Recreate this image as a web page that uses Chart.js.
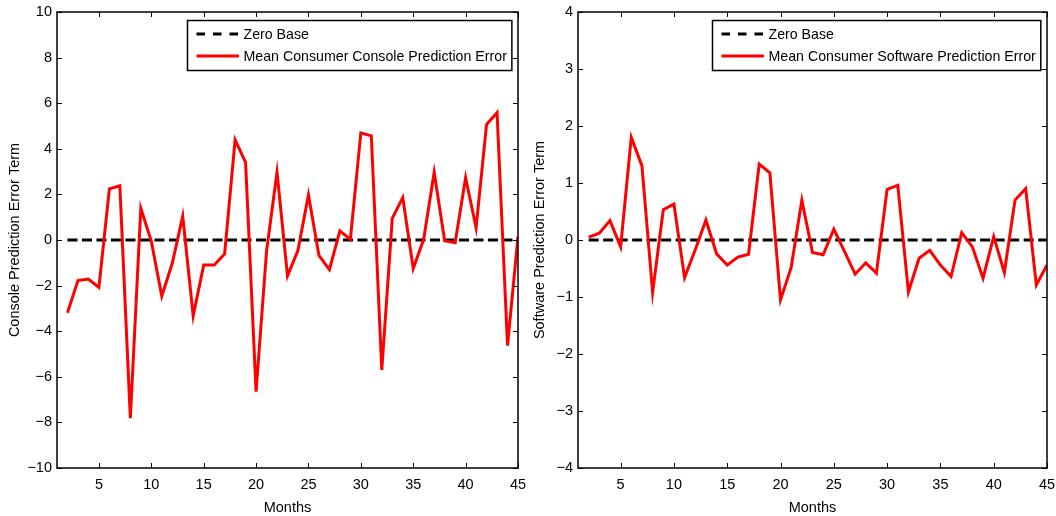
<!DOCTYPE html>
<html><head><meta charset="utf-8">
<script src="https://cdn.jsdelivr.net/npm/chart.js@4.4.1/dist/chart.umd.min.js"></script>
<style>
html,body{margin:0;padding:0;background:#fff;}
body{width:1056px;height:516px;position:relative;overflow:hidden;}
canvas{position:absolute;top:0;}
#c1{left:0;} #c2{left:528px;}
</style></head><body>
<canvas id="c1" width="528" height="516"></canvas>
<canvas id="c2" width="528" height="516"></canvas>
<script>
// ---- data ----
const months = [2,3,4,5,6,7,8,9,10,11,12,13,14,15,16,17,18,19,20,21,22,23,24,25,26,27,28,29,30,31,32,33,34,35,36,37,38,39,40,41,42,43,44,45];
const consoleErrors = [-3.19,-1.78,-1.71,-2.08,2.24,2.38,-7.82,1.39,-0.05,-2.46,-1.02,1.05,-3.33,-1.1,-1.1,-0.61,4.39,3.4,-6.65,-0.5,2.97,-1.57,-0.45,1.98,-0.68,-1.3,0.4,0.03,4.7,4.57,-5.7,0.95,1.86,-1.25,0.03,2.97,-0.03,-0.12,2.73,0.54,5.07,5.58,-4.63,0.15];
const softwareErrors = [0.05,0.12,0.34,-0.12,1.8,1.3,-0.92,0.53,0.63,-0.66,-0.17,0.35,-0.24,-0.44,-0.3,-0.25,1.33,1.18,-1.05,-0.48,0.7,-0.22,-0.26,0.19,-0.2,-0.6,-0.4,-0.58,0.89,0.96,-0.91,-0.32,-0.18,-0.44,-0.64,0.13,-0.12,-0.67,0.06,-0.57,0.7,0.9,-0.79,-0.44];
const zeroBaseX = [2,45];
const zeroBaseY = [0,0];
const xTicks = [5,10,15,20,25,30,35,40,45];
const consoleYTicks = [-10,-8,-6,-4,-2,0,2,4,6,8,10];
const softwareYTicks = [-4,-3,-2,-1,0,1,2,3,4];

const FONT = '"Liberation Sans", Arial, Helvetica, sans-serif';
const FSIZE = 14.5;
const LEG_FSIZE = 14.2;

const framePlugin = {
  id: 'frame',
  afterDatasetsDraw(chart) {
    const {ctx, chartArea: a, scales} = chart;
    ctx.save();
    ctx.strokeStyle = '#000';
    ctx.lineWidth = 1.5;
    ctx.strokeRect(a.left, a.top, a.right - a.left, a.bottom - a.top);
    ctx.lineWidth = 1;
    const tl = 5;
    ctx.beginPath();
    scales.x.ticks.forEach(t => {
      const px = Math.round(scales.x.getPixelForValue(t.value)) + 0.5;
      ctx.moveTo(px, a.bottom); ctx.lineTo(px, a.bottom - tl);
      ctx.moveTo(px, a.top); ctx.lineTo(px, a.top + tl);
    });
    scales.y.ticks.forEach(t => {
      const py = Math.round(scales.y.getPixelForValue(t.value)) + 0.5;
      ctx.moveTo(a.left, py); ctx.lineTo(a.left + tl, py);
      ctx.moveTo(a.right, py); ctx.lineTo(a.right - tl, py);
    });
    ctx.stroke();

    // legend box (top-right inside plot)
    const ds = chart.data.datasets;
    ctx.font = LEG_FSIZE + 'px ' + FONT;
    const tw = Math.max(...ds.map(d => ctx.measureText(d.label).width));
    const boxW = 56 + tw + 5;
    const boxH = 50;
    const bx = Math.round(a.right - 7 - boxW) + 0.5;
    const by = Math.round(a.top + 8) + 0.5;
    ctx.fillStyle = '#fff';
    ctx.fillRect(bx, by, boxW, boxH);
    ctx.lineWidth = 1.5;
    ctx.strokeStyle = '#000';
    ctx.strokeRect(bx, by, boxW, boxH);
    ds.forEach((d, i) => {
      const y = by + 13.5 + i * 22;
      ctx.beginPath();
      ctx.strokeStyle = d.borderColor;
      ctx.lineWidth = d.borderWidth;
      if (d.borderDash) ctx.setLineDash([8.5, 8]);
      ctx.moveTo(bx + 9, y); ctx.lineTo(bx + 51.5, y);
      ctx.stroke();
      ctx.setLineDash([]);
      ctx.fillStyle = '#000';
      ctx.textBaseline = 'middle';
      ctx.textAlign = 'left';
      ctx.fillText(d.label, bx + 56, y + 1);
    });
    ctx.restore();
  }
};

function makeChart(id, series, label, yTitle, yTicks, yMin, yMax, axisW, padRight, titlePad) {
  const ctx = document.getElementById(id);
  return new Chart(ctx, {
    type: 'line',
    data: {
      datasets: [
        {
          label: 'Zero Base',
          data: zeroBaseX.map((x, i) => ({x, y: zeroBaseY[i]})),
          borderColor: '#000',
          borderWidth: 3,
          borderDash: [10, 4.5],
          pointRadius: 0,
          order: 1
        },
        {
          label: label,
          data: months.map((m, i) => ({x: m, y: series[i]})),
          borderColor: '#ff0000',
          borderWidth: 3,
          pointRadius: 0,
          tension: 0,
          order: 0
        }
      ]
    },
    options: {
      responsive: false,
      animation: false,
      devicePixelRatio: 1,
      layout: {padding: {left: 0, right: padRight, top: 12, bottom: 0}},
      plugins: {legend: {display: false}, tooltip: {enabled: false}},
      scales: {
        x: {
          type: 'linear', min: 1, max: 45,
          grid: {display: false, drawTicks: false},
          border: {display: false},
          afterBuildTicks: s => { s.ticks = xTicks.map(v => ({value: v})); },
          afterFit: s => { s.height = 48; s.paddingLeft = 0; s.paddingRight = 0; },
          ticks: {color: '#000', font: {family: FONT, size: FSIZE}, padding: 8, maxRotation: 0, autoSkip: false},
          title: {display: true, text: 'Months', color: '#000', font: {family: FONT, size: FSIZE}, padding: {top: 0, bottom: -0.5}}
        },
        y: {
          type: 'linear', min: yMin, max: yMax,
          grid: {display: false, drawTicks: false},
          border: {display: false},
          afterBuildTicks: s => { s.ticks = yTicks.map(v => ({value: v})); },
          afterFit: s => { s.width = axisW; s.paddingTop = 0; s.paddingBottom = 0; },
          ticks: {color: '#000', font: {family: FONT, size: FSIZE}, padding: 5, autoSkip: false,
                  callback: v => String(v).replace('-', '\u2212')},
          title: {display: true, text: yTitle, color: '#000', font: {family: FONT, size: FSIZE}, padding: {top: titlePad, bottom: 0}}
        }
      }
    },
    plugins: [framePlugin]
  });
}

makeChart('c1', consoleErrors, 'Mean Consumer Console Prediction Error', 'Console Prediction Error Term', consoleYTicks, -10, 10, 57, 10, 6.5);
makeChart('c2', softwareErrors, 'Mean Consumer Software Prediction Error', 'Software Prediction Error Term', softwareYTicks, -4, 4, 50, 9, 3.5);
</script>
</body></html>
